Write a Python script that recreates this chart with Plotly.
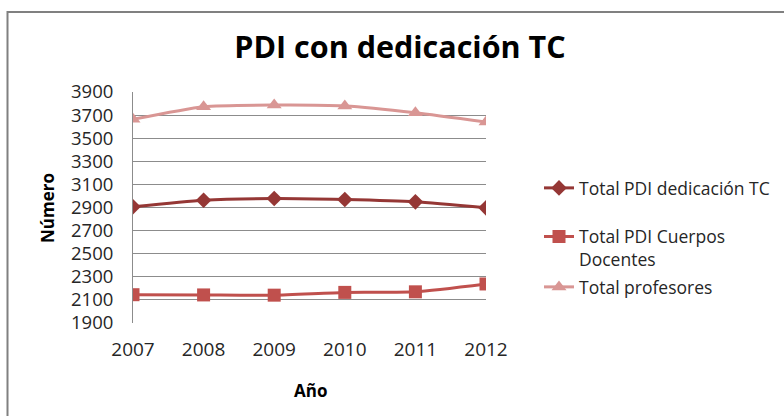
import plotly.graph_objects as go

years = [2007, 2008, 2009, 2010, 2011, 2012]
total_pdi_tc = [2906, 2963, 2978, 2969, 2949, 2897]
total_pdi_cuerpos = [2145, 2143, 2141, 2165, 2170, 2238]
total_profesores = [3663, 3773, 3787, 3779, 3721, 3640]

names = ["Total PDI dedicación TC", "Total PDI Cuerpos<br>Docentes", "Total profesores"]
colors = ["#953735", "#C0504D", "#D99694"]
symbols = ["diamond", "square", "triangle-up"]
sizes = [12, 13, 13]
legend_ids = ["legend", "legend2", "legend3"]

font_family = "Open Sans, Liberation Sans, sans-serif"

# plot area in pixels
L, R, T, B = 133, 486, 92, 323
W, H = R - L, B - T

def px_x(x):
    return (x - L) / W

def px_y(y):
    return (B - y) / H

fig = go.Figure()
for i, (vals, name) in enumerate(zip([total_pdi_tc, total_pdi_cuerpos, total_profesores], names)):
    fig.add_trace(go.Scatter(
        x=years, y=vals, name=name, mode="lines+markers",
        line=dict(color=colors[i], width=3, shape="spline", smoothing=0.6),
        marker=dict(symbol=symbols[i], size=sizes[i], color=colors[i]),
        legend=legend_ids[i], showlegend=True,
    ))

legend_common = dict(xanchor="left", yanchor="middle",
                     font=dict(size=17.5, color="#262626"),
                     bgcolor="rgba(0,0,0,0)", borderwidth=0, valign="top")

fig.update_layout(
    width=784, height=416, showlegend=True,
    paper_bgcolor="white", plot_bgcolor="white",
    margin=dict(l=L, r=784 - R, t=T, b=416 - B, autoexpand=False),
    title=dict(text="<b>PDI con dedicación TC</b>", x=400/784, xanchor="center",
               y=1 - 47/416, yanchor="middle",
               font=dict(family=font_family, size=30.5, color="black")),
    font=dict(family=font_family, color="#262626"),
    xaxis=dict(range=[2007, 2012], tickmode="array", tickvals=years,
               ticktext=[str(y) for y in years], showgrid=False,
               showline=False, zeroline=False, ticks="", automargin=False,
               ticklabelstandoff=13,
               tickfont=dict(size=19, color="#262626")),
    yaxis=dict(range=[1900, 3900], tick0=1900, dtick=200, showgrid=True,
               gridcolor="#8C8C8C", gridwidth=1, showline=True,
               linecolor="#8C8C8C", linewidth=1, automargin=False,
               zeroline=False, ticks="", ticklabelstandoff=15,
               tickfont=dict(size=18.5, color="#262626")),
    legend=dict(x=px_x(539), y=px_y(188), **legend_common),
    legend2=dict(x=px_x(539), y=px_y(248), **legend_common),
    legend3=dict(x=px_x(539), y=px_y(287), **legend_common),
    annotations=[
        dict(text="<b>Número</b>", xref="paper", yref="paper",
             x=px_x(47), y=px_y(208), xanchor="center", yanchor="middle",
             textangle=-90, showarrow=False,
             font=dict(size=17, color="black")),
        dict(text="<b>Año</b>", xref="paper", yref="paper",
             x=px_x(310), y=px_y(390), xanchor="center", yanchor="middle",
             showarrow=False, font=dict(size=17, color="black")),
    ],
    shapes=[dict(type="rect", xref="paper", yref="paper",
                 x0=px_x(7.5), x1=px_x(1000), y0=px_y(600), y1=px_y(12),
                 line=dict(color="#808080", width=2), layer="below")],
)

fig.write_html("out.html", config={"displayModeBar": False},
               post_script="document.body.style.margin='0';")
